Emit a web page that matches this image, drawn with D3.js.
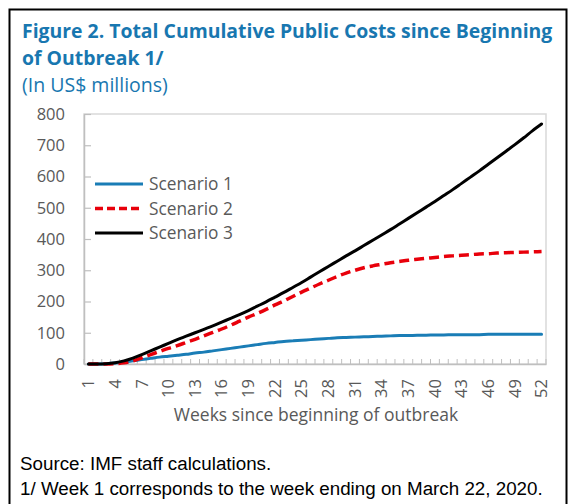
<!DOCTYPE html>
<html>
<head>
<meta charset="utf-8">
<script src="https://cdn.jsdelivr.net/npm/d3@7"></script>
<style>
  html, body { margin: 0; padding: 0; background: #fff; }
  svg { display: block; }
</style>
</head>
<body>
<div id="chart"></div>
<script>
// weeks since beginning of outbreak
var weeks = d3.range(1, 53);
var tickWeeks = [1, 4, 7, 10, 13, 16, 19, 22, 25, 28, 31, 34, 37, 40, 43, 46, 49, 52];
var yTicks = [0, 100, 200, 300, 400, 500, 600, 700, 800];

// cumulative public costs, US$ millions
var scenario1 = [0, 0, 1, 3, 6, 10, 14, 18, 22, 25, 28, 31, 35, 38, 42, 46, 50, 54, 58, 62,
  66, 69, 72, 74, 76, 78, 80, 82, 84, 85, 86, 87, 88, 89, 90, 91, 91, 92, 92, 93,
  93, 94, 94, 94, 94, 95, 95, 95, 95, 95, 95, 95];
var scenario2 = [0, 0, 0, 1, 4, 10, 20, 30, 40, 50, 59, 69, 79, 90, 101, 112, 124, 137, 150, 162,
  175, 189, 202, 216, 230, 243, 256, 268, 280, 291, 300, 308, 314, 319, 324, 328, 332, 335, 338, 341,
  344, 346, 348, 350, 352, 353, 355, 356, 357, 358, 359, 360];
var scenario3 = [0, 0, 1, 4, 10, 19, 30, 42, 54, 66, 78, 89, 100, 111, 122, 134, 146, 158, 171, 185,
  199, 214, 229, 245, 261, 278, 295, 312, 329, 346, 362, 379, 396, 413, 430, 448, 466, 484, 502, 520,
  539, 558, 578, 598, 618, 639, 660, 681, 702, 724, 747, 768];

var seriesNames = ['Scenario 1', 'Scenario 2', 'Scenario 3'];
var seriesColors = ['#1a7db6', '#e8000b', '#000000'];

var width = 570, height = 504;
var plot = {left: 84, right: 546, top: 114, bottom: 364};
var grey = '#595959';
var font = '"Open Sans", "Noto Sans", sans-serif';
var noteFont = '"Liberation Sans", Arial, sans-serif';

var svg = d3.select('#chart').append('svg')
  .attr('width', width)
  .attr('height', height)
  .style('font-family', font);

// figure frame
svg.append('rect')
  .attr('x', 9.5).attr('y', 9.5)
  .attr('width', 557).attr('height', 520)
  .attr('fill', 'none')
  .attr('stroke', '#000')
  .attr('stroke-width', 2);

// title block
var titleColor = '#1877b0';
svg.append('text')
  .attr('x', 22).attr('y', 38)
  .attr('fill', titleColor)
  .style('font-size', '19.4px')
  .style('font-weight', 'bold')
  .text('Figure 2. Total Cumulative Public Costs since Beginning');
svg.append('text')
  .attr('x', 22).attr('y', 65)
  .attr('fill', titleColor)
  .style('font-size', '19.4px')
  .style('font-weight', 'bold')
  .text('of Outbreak 1/');
svg.append('text')
  .attr('x', 22).attr('y', 92)
  .attr('fill', titleColor)
  .style('font-size', '19.5px')
  .text('(In US$ millions)');

var x = d3.scaleBand()
  .domain(weeks)
  .range([plot.left, plot.right])
  .padding(0);

var y = d3.scaleLinear()
  .domain([0, 800])
  .range([plot.bottom, plot.top]);

function cx(w) { return x(w) + x.bandwidth() / 2; }

// plot area border
svg.append('rect')
  .attr('x', plot.left).attr('y', plot.top)
  .attr('width', plot.right - plot.left)
  .attr('height', plot.bottom - plot.top)
  .attr('fill', 'none')
  .attr('stroke', '#d9d9d9')
  .attr('stroke-width', 1.5);

// y axis
var yAxis = svg.append('g')
  .attr('transform', 'translate(' + plot.left + ',0)')
  .call(d3.axisLeft(y).tickValues(yTicks).tickSizeInner(-7).tickSizeOuter(0).tickPadding(19));
yAxis.select('.domain').attr('stroke', '#bfbfbf').attr('stroke-width', 1.5);
yAxis.selectAll('.tick line').attr('stroke', '#bfbfbf').attr('stroke-width', 1.2);
yAxis.selectAll('.tick text')
  .attr('fill', grey)
  .style('font-size', '16.5px')
  .style('font-family', font);

// x axis
var xAxis = svg.append('g')
  .attr('transform', 'translate(0,' + plot.bottom + ')')
  .call(d3.axisBottom(x).tickValues(tickWeeks).tickSize(0).tickPadding(0));
xAxis.select('.domain').attr('stroke', '#bfbfbf').attr('stroke-width', 1.5);
xAxis.selectAll('.tick text')
  .attr('transform', 'rotate(-90)')
  .attr('text-anchor', 'end')
  .attr('x', -15)
  .attr('y', 0)
  .attr('dy', '0.35em')
  .attr('fill', grey)
  .style('font-size', '16.5px')
  .style('font-family', font);

// minor ticks between categories
svg.append('g').selectAll('line')
  .data(weeks.concat(['end']))
  .join('line')
  .attr('x1', function(d) { return d === 'end' ? plot.right : x(d); })
  .attr('x2', function(d) { return d === 'end' ? plot.right : x(d); })
  .attr('y1', plot.bottom)
  .attr('y2', plot.bottom - 5)
  .attr('stroke', '#bfbfbf')
  .attr('stroke-width', 1);

svg.append('text')
  .attr('x', 316).attr('y', 421)
  .attr('text-anchor', 'middle')
  .attr('fill', grey)
  .style('font-size', '17.5px')
  .text('Weeks since beginning of outbreak');

// lines
var line = d3.line()
  .x(function(d, i) { return cx(weeks[i]); })
  .y(function(d) { return y(d); })
  .curve(d3.curveMonotoneX);

var allSeries = [scenario1, scenario2, scenario3];
allSeries.forEach(function(s, i) {
  svg.append('path')
    .datum(s)
    .attr('d', line)
    .attr('fill', 'none')
    .attr('stroke', seriesColors[i])
    .attr('stroke-width', i === 1 ? 3.5 : 3)
    .attr('stroke-dasharray', i === 1 ? '10,5' : null)
    .attr('stroke-linecap', i === 1 ? 'butt' : 'round');
});

// legend
var legend = svg.append('g').selectAll('g')
  .data(seriesNames)
  .join('g')
  .attr('transform', function(d, i) { return 'translate(95,' + (184 + i * 24.5) + ')'; });
legend.append('line')
  .attr('x1', 0).attr('x2', 48)
  .attr('stroke', function(d, i) { return seriesColors[i]; })
  .attr('stroke-width', function(d, i) { return i === 1 ? 3.5 : 3; })
  .attr('stroke-dasharray', function(d, i) { return i === 1 ? '8,4' : null; });
legend.append('text')
  .attr('x', 54).attr('dy', '0.35em')
  .attr('fill', grey)
  .style('font-size', '17.3px')
  .text(function(d) { return d; });

// notes
svg.append('text')
  .attr('x', 20).attr('y', 470)
  .attr('fill', '#000')
  .style('font-size', '18.8px')
  .style('font-family', noteFont)
  .text('Source: IMF staff calculations.');
svg.append('text')
  .attr('x', 20).attr('y', 495)
  .attr('fill', '#000')
  .style('font-size', '18.8px')
  .style('font-family', noteFont)
  .text('1/ Week 1 corresponds to the week ending on March 22, 2020.');
</script>
</body>
</html>
